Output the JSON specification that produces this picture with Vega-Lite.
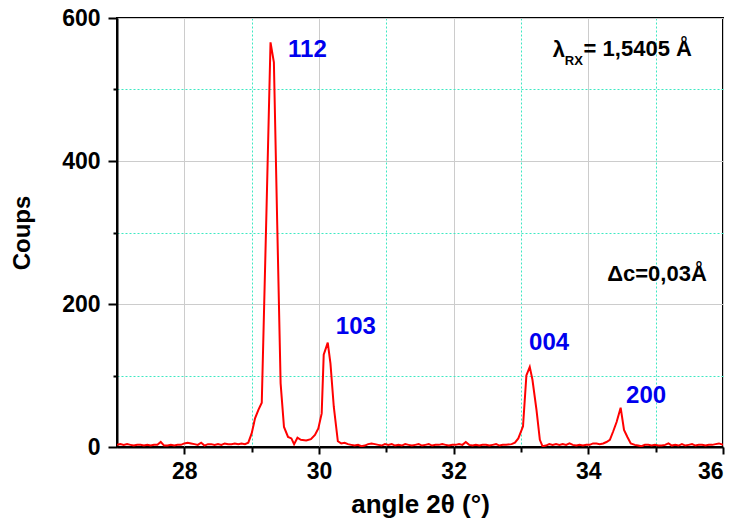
{
  "$schema": "https://vega.github.io/schema/vega-lite/v6.json",
  "width": 606,
  "height": 429,
  "autosize": {"type": "none"},
  "padding": {"left": 117, "top": 18, "right": 17, "bottom": 72},
  "background": "white",
  "config": {
    "view": {"stroke": "black", "strokeWidth": 2},
    "font": "Arial, Liberation Sans",
    "axis": {
      "domainColor": "black", "domainWidth": 2, "tickColor": "black", "tickWidth": 2,
      "labelFont": "Arial, Liberation Sans", "labelFontSize": 23, "labelFontWeight": "bold", "labelColor": "black",
      "titleFont": "Arial, Liberation Sans", "titleFontWeight": "bold", "titleColor": "black",
      "gridWidth": 1, "gridOpacity": 1
    }
  },
  "datasets": {
    "xrd": [
      {"a": 27.00, "c": 3}, {"a": 27.05, "c": 4}, {"a": 27.10, "c": 3}, {"a": 27.15, "c": 4}, {"a": 27.20, "c": 3},
      {"a": 27.25, "c": 2}, {"a": 27.30, "c": 3}, {"a": 27.35, "c": 3}, {"a": 27.40, "c": 2}, {"a": 27.45, "c": 3},
      {"a": 27.50, "c": 2}, {"a": 27.55, "c": 3}, {"a": 27.60, "c": 3}, {"a": 27.65, "c": 7}, {"a": 27.70, "c": 2},
      {"a": 27.75, "c": 2}, {"a": 27.80, "c": 3}, {"a": 27.85, "c": 2}, {"a": 27.90, "c": 3}, {"a": 27.95, "c": 3},
      {"a": 28.00, "c": 5}, {"a": 28.05, "c": 6}, {"a": 28.10, "c": 5}, {"a": 28.15, "c": 4}, {"a": 28.20, "c": 3},
      {"a": 28.25, "c": 6}, {"a": 28.30, "c": 2}, {"a": 28.35, "c": 4}, {"a": 28.40, "c": 4}, {"a": 28.45, "c": 3},
      {"a": 28.50, "c": 4}, {"a": 28.55, "c": 3}, {"a": 28.60, "c": 5}, {"a": 28.65, "c": 4}, {"a": 28.70, "c": 4},
      {"a": 28.75, "c": 5}, {"a": 28.80, "c": 4}, {"a": 28.85, "c": 5}, {"a": 28.90, "c": 4}, {"a": 28.95, "c": 6},
      {"a": 29.00, "c": 19}, {"a": 29.05, "c": 40}, {"a": 29.10, "c": 52}, {"a": 29.15, "c": 62}, {"a": 29.22, "c": 330},
      {"a": 29.28, "c": 566}, {"a": 29.33, "c": 538}, {"a": 29.38, "c": 310}, {"a": 29.43, "c": 89}, {"a": 29.48, "c": 28},
      {"a": 29.54, "c": 14}, {"a": 29.59, "c": 12}, {"a": 29.63, "c": 4}, {"a": 29.68, "c": 13}, {"a": 29.73, "c": 10},
      {"a": 29.81, "c": 9}, {"a": 29.88, "c": 11}, {"a": 29.94, "c": 17}, {"a": 29.99, "c": 26}, {"a": 30.04, "c": 47},
      {"a": 30.07, "c": 129}, {"a": 30.13, "c": 146}, {"a": 30.17, "c": 117}, {"a": 30.22, "c": 56}, {"a": 30.28, "c": 8},
      {"a": 30.33, "c": 5}, {"a": 30.38, "c": 6}, {"a": 30.43, "c": 4}, {"a": 30.48, "c": 3}, {"a": 30.53, "c": 2},
      {"a": 30.58, "c": 3}, {"a": 30.63, "c": 1}, {"a": 30.68, "c": 2}, {"a": 30.73, "c": 4}, {"a": 30.78, "c": 5},
      {"a": 30.83, "c": 4}, {"a": 30.88, "c": 3}, {"a": 30.93, "c": 2}, {"a": 30.98, "c": 4}, {"a": 31.03, "c": 3},
      {"a": 31.08, "c": 4}, {"a": 31.13, "c": 2}, {"a": 31.18, "c": 3}, {"a": 31.23, "c": 2}, {"a": 31.28, "c": 4},
      {"a": 31.33, "c": 3}, {"a": 31.38, "c": 2}, {"a": 31.43, "c": 3}, {"a": 31.48, "c": 4}, {"a": 31.53, "c": 2},
      {"a": 31.58, "c": 3}, {"a": 31.63, "c": 4}, {"a": 31.68, "c": 2}, {"a": 31.73, "c": 3}, {"a": 31.78, "c": 3},
      {"a": 31.83, "c": 4}, {"a": 31.88, "c": 3}, {"a": 31.93, "c": 2}, {"a": 31.98, "c": 3}, {"a": 32.03, "c": 3},
      {"a": 32.08, "c": 4}, {"a": 32.13, "c": 3}, {"a": 32.18, "c": 7}, {"a": 32.23, "c": 3}, {"a": 32.28, "c": 2},
      {"a": 32.33, "c": 3}, {"a": 32.38, "c": 2}, {"a": 32.43, "c": 3}, {"a": 32.48, "c": 3}, {"a": 32.53, "c": 2},
      {"a": 32.58, "c": 3}, {"a": 32.63, "c": 4}, {"a": 32.68, "c": 2}, {"a": 32.73, "c": 3}, {"a": 32.78, "c": 3},
      {"a": 32.86, "c": 4}, {"a": 32.91, "c": 6}, {"a": 32.96, "c": 12}, {"a": 33.03, "c": 29}, {"a": 33.08, "c": 100},
      {"a": 33.13, "c": 112}, {"a": 33.17, "c": 94}, {"a": 33.23, "c": 52}, {"a": 33.28, "c": 10}, {"a": 33.32, "c": 1},
      {"a": 33.37, "c": 2}, {"a": 33.42, "c": 4}, {"a": 33.47, "c": 3}, {"a": 33.52, "c": 4}, {"a": 33.57, "c": 3},
      {"a": 33.62, "c": 4}, {"a": 33.67, "c": 3}, {"a": 33.72, "c": 5}, {"a": 33.77, "c": 3}, {"a": 33.82, "c": 2},
      {"a": 33.87, "c": 3}, {"a": 33.92, "c": 2}, {"a": 33.97, "c": 3}, {"a": 34.02, "c": 3}, {"a": 34.07, "c": 5},
      {"a": 34.12, "c": 5}, {"a": 34.17, "c": 4}, {"a": 34.22, "c": 5}, {"a": 34.27, "c": 7}, {"a": 34.32, "c": 10},
      {"a": 34.37, "c": 22}, {"a": 34.42, "c": 35}, {"a": 34.48, "c": 55}, {"a": 34.53, "c": 24}, {"a": 34.58, "c": 14},
      {"a": 34.63, "c": 5}, {"a": 34.69, "c": 3}, {"a": 34.74, "c": 2}, {"a": 34.79, "c": 1}, {"a": 34.84, "c": 3},
      {"a": 34.89, "c": 3}, {"a": 34.94, "c": 2}, {"a": 34.99, "c": 3}, {"a": 35.04, "c": 2}, {"a": 35.09, "c": 2},
      {"a": 35.14, "c": 3}, {"a": 35.19, "c": 5}, {"a": 35.24, "c": 2}, {"a": 35.29, "c": 3}, {"a": 35.34, "c": 2},
      {"a": 35.39, "c": 4}, {"a": 35.44, "c": 2}, {"a": 35.49, "c": 3}, {"a": 35.54, "c": 4}, {"a": 35.59, "c": 2},
      {"a": 35.64, "c": 3}, {"a": 35.69, "c": 3}, {"a": 35.74, "c": 2}, {"a": 35.79, "c": 3}, {"a": 35.84, "c": 3},
      {"a": 35.89, "c": 4}, {"a": 35.94, "c": 5}, {"a": 36.00, "c": 3}
    ],
    "peaks": [
      {"a": 29.54, "c": 555, "t": "112"},
      {"a": 30.25, "c": 168, "t": "103"},
      {"a": 33.12, "c": 145, "t": "004"},
      {"a": 34.56, "c": 71, "t": "200"}
    ]
  },
  "layer": [
    {
      "data": {"name": "xrd"},
      "mark": {"type": "line", "color": "#ff0000", "strokeWidth": 2, "clip": true},
      "encoding": {
        "x": {
          "field": "a", "type": "quantitative",
          "scale": {"domain": [27, 36], "nice": false, "zero": false},
          "axis": {
            "title": "angle 2θ (°)",
            "titleFontSize": 26,
            "format": "d",
            "values": [28, 29, 30, 31, 32, 33, 34, 35, 36],
            "labelExpr": "datum.value % 2 === 0 ? datum.label : ''",
            "labelPadding": 6,
            "titlePadding": 8,
            "tickSize": {"condition": {"test": "datum.value % 2 === 1", "value": 5}, "value": 7},
            "grid": true,
            "gridColor": {"condition": {"test": "datum.value % 2 === 1", "value": "#3ee8c2"}, "value": "#cccccc"},
            "gridDash": {"condition": {"test": "datum.value % 2 === 1", "value": [2, 2]}, "value": []}
          }
        },
        "y": {
          "field": "c", "type": "quantitative",
          "scale": {"domain": [0, 600], "nice": false},
          "axis": {
            "title": "Coups",
            "titleFontSize": 24,
            "format": "d",
            "values": [0, 100, 200, 300, 400, 500, 600],
            "labelExpr": "datum.value % 200 === 0 ? datum.label : ''",
            "labelPadding": 8,
            "titlePadding": 27,
            "tickSize": {"condition": {"test": "datum.value % 200 === 100", "value": 4}, "value": 9},
            "grid": true,
            "gridColor": {"condition": {"test": "datum.value % 200 === 100", "value": "#3ee8c2"}, "value": "#cccccc"},
            "gridDash": {"condition": {"test": "datum.value % 200 === 100", "value": [2, 2]}, "value": []}
          }
        }
      }
    },
    {
      "data": {"name": "peaks"},
      "mark": {"type": "text", "align": "left", "baseline": "middle", "color": "#0000ee", "fontSize": 24, "fontWeight": "bold", "font": "Arial, Liberation Sans"},
      "encoding": {
        "x": {"field": "a", "type": "quantitative"},
        "y": {"field": "c", "type": "quantitative"},
        "text": {"field": "t"}
      }
    },
    {
      "data": {"values": [{"a": 33.47, "c": 555, "t": "λ"}, {"a": 33.93, "c": 556, "t": "= 1,5405 Å"}]},
      "mark": {"type": "text", "align": "left", "baseline": "middle", "color": "black", "fontSize": 22, "fontWeight": "bold", "font": "Arial, Liberation Sans"},
      "encoding": {
        "x": {"field": "a", "type": "quantitative"},
        "y": {"field": "c", "type": "quantitative"},
        "text": {"field": "t"}
      }
    },
    {
      "data": {"values": [{"a": 34.28, "c": 242, "t": "Δc=0,03Å"}]},
      "mark": {"type": "text", "align": "left", "baseline": "middle", "color": "black", "fontSize": 22, "fontWeight": "bold", "font": "Arial, Liberation Sans"},
      "encoding": {
        "x": {"field": "a", "type": "quantitative"},
        "y": {"field": "c", "type": "quantitative"},
        "text": {"field": "t"}
      }
    },
    {
      "data": {"values": [{"a": 33.65, "c": 540, "t": "RX"}]},
      "mark": {"type": "text", "align": "left", "baseline": "middle", "color": "black", "fontSize": 13, "fontWeight": "bold", "font": "Arial, Liberation Sans"},
      "encoding": {
        "x": {"field": "a", "type": "quantitative"},
        "y": {"field": "c", "type": "quantitative"},
        "text": {"field": "t"}
      }
    }
  ]
}
